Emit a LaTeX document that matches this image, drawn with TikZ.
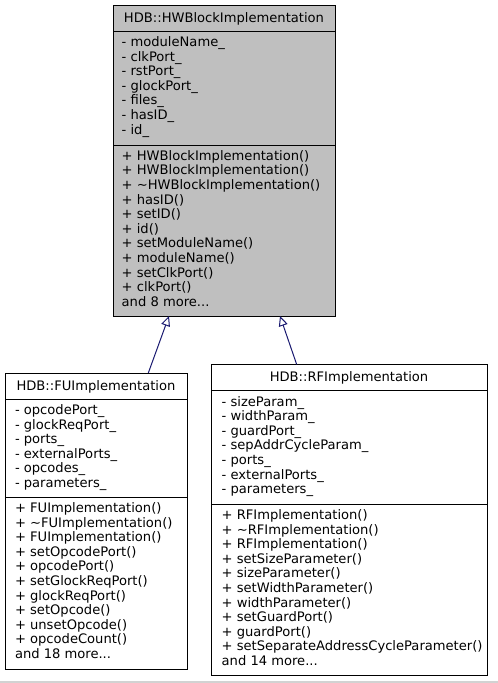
\documentclass[tikz,border=0pt]{standalone}
\usepackage{fontspec}
\setmainfont{DejaVu Sans}
\usetikzlibrary{arrows.meta}
\definecolor{edgeblue}{HTML}{191970}
\definecolor{boxgray}{HTML}{BFBFBF}
\newcommand\mysec[4]{%
  \foreach \t [count=\i from 0] in {#4} {
    \node[txt] (#1\i) at (#2, {#3+14.6*\i}) {\t};
  }}
\begin{document}
\begin{tikzpicture}[x=1pt,y=-1pt,
  txt/.style={anchor=base west,inner sep=0pt,font=\fontsize{13.1}{14.6}\selectfont},
  ttl/.style={anchor=base,inner sep=0pt,font=\fontsize{13.1}{14.6}\selectfont},
  box/.style={draw=black,line width=1pt,inner sep=0pt,outer sep=0pt,anchor=north west,rectangle},
  sep/.style={draw=black,line width=1pt},
  inh/.style={draw=edgeblue,line width=1pt,-{Triangle[open,length=10pt,width=9pt]}}]
\useasboundingbox (0,0) rectangle (498,683);
\fill[gray!35] (0,680.5) rectangle (498,683);
% top class
\node[box,fill=boxgray,minimum width=222pt,minimum height=311pt] (top) at (113,5) {};
\draw[sep] (top.west |- 0,31) -- (top.east |- 0,31);
\draw[sep] (top.west |- 0,145) -- (top.east |- 0,145);
\node[ttl] (toptitle) at (224,22) {HDB::HWBlockImplementation};
\mysec{ta}{121.5}{46.5}{- moduleName\_,- clkPort\_,- rstPort\_,- glockPort\_,- files\_,- hasID\_,- id\_}
\mysec{tm}{121.5}{160.3}{+ HWBlockImplementation(),+ HWBlockImplementation(),+ \textasciitilde HWBlockImplementation(),+ hasID(),+ setID(),+ id(),+ setModuleName(),+ moduleName(),+ setClkPort(),+ clkPort()}
\node[txt] (tmore) at (121.5,306.3) {and 8 more...};
% FU class
\node[box,fill=white,minimum width=182pt,minimum height=296pt] (fu) at (5,373) {};
\draw[sep] (fu.west |- 0,399) -- (fu.east |- 0,399);
\draw[sep] (fu.west |- 0,497) -- (fu.east |- 0,497);
\node[ttl] (futitle) at (96,390) {HDB::FUImplementation};
\mysec{fa}{14.8}{414.5}{- opcodePort\_,- glockReqPort\_,- ports\_,- externalPorts\_,- opcodes\_,- parameters\_}
\mysec{fm}{14.8}{512.5}{+ FUImplementation(),+ \textasciitilde FUImplementation(),+ FUImplementation(),+ setOpcodePort(),+ opcodePort(),+ setGlockReqPort(),+ glockReqPort(),+ setOpcode(),+ unsetOpcode(),+ opcodeCount()}
\node[txt] (fmore) at (14.8,658.5) {and 18 more...};
% RF class
\node[box,fill=white,minimum width=276pt,minimum height=311pt] (rf) at (211,364.5) {};
\draw[sep] (rf.west |- 0,390.5) -- (rf.east |- 0,390.5);
\draw[sep] (rf.west |- 0,504) -- (rf.east |- 0,504);
\node[ttl] (rftitle) at (349,381.5) {HDB::RFImplementation};
\mysec{ra}{221.5}{406}{- sizeParam\_,- widthParam\_,- guardPort\_,- sepAddrCycleParam\_,- ports\_,- externalPorts\_,- parameters\_}
\mysec{rm}{221.5}{519.5}{+ RFImplementation(),+ \textasciitilde RFImplementation(),+ RFImplementation(),+ setSizeParameter(),+ sizeParameter(),+ setWidthParameter(),+ widthParameter(),+ setGuardPort(),+ guardPort(),+ setSeparateAddressCycleParameter()}
\node[txt] (rmore) at (221.5,665.5) {and 14 more...};
% inheritance
\draw[inh] ([xshift=52.3pt]fu.north) -- ([xshift=-55pt]top.south);
\draw[inh] ([xshift=-52.3pt]rf.north) -- ([xshift=56pt]top.south);
\end{tikzpicture}
\end{document}
